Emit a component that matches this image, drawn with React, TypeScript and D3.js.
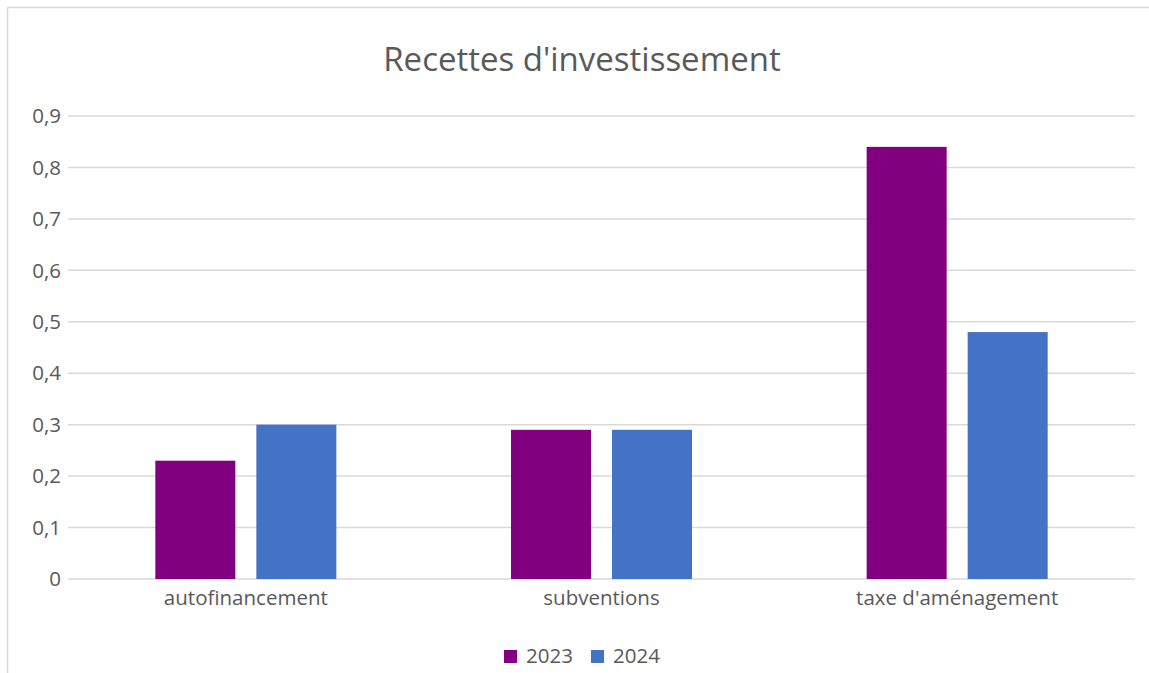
import { useEffect, useRef } from 'react';
import * as d3 from 'd3';

const categories = ['autofinancement', 'subventions', "taxe d'aménagement"];
const seriesNames = ['2023', '2024'];
const values2023 = [0.23, 0.29, 0.84];
const values2024 = [0.3, 0.29, 0.48];
const yTicks = [0, 0.1, 0.2, 0.3, 0.4, 0.5, 0.6, 0.7, 0.8, 0.9];

const colors: Record<string, string> = {
  '2023': '#800080',
  '2024': '#4472C4',
};

const W = 1149;
const H = 673;
const font = '"Open Sans", "Noto Sans", sans-serif';
const labelSize = 20.5;

export default function App() {
  const svgRef = useRef<SVGSVGElement>(null);

  useEffect(() => {
    if (!svgRef.current) return;
    document.body.style.margin = '0';
    const svg = d3.select(svgRef.current);
    svg.selectAll('*').remove();
    svg.attr('width', W).attr('height', H);

    svg.append('rect').attr('width', W).attr('height', H).attr('fill', '#fff');

    // chart border (only left and top visible in the crop)
    svg.append('path')
      .attr('d', `M7.5,${H} V7.5 H${W}`)
      .attr('fill', 'none')
      .attr('stroke', '#D9D9D9')
      .attr('stroke-width', 1.5);

    const plot = { left: 68, right: 1135, top: 116, bottom: 579 };

    const y = d3.scaleLinear().domain([0, 0.9]).range([plot.bottom, plot.top]);
    const x = d3
      .scaleBand<string>()
      .domain(categories)
      .range([plot.left, plot.right])
      .paddingInner(0.491)
      .paddingOuter(0.2455);
    const xs = d3
      .scaleBand<string>()
      .domain(seriesNames)
      .range([0, x.bandwidth()])
      .paddingInner(0.208);

    // Title
    svg.append('text')
      .attr('x', 582)
      .attr('y', 71)
      .attr('text-anchor', 'middle')
      .attr('font-family', font)
      .attr('font-size', 33)
      .attr('fill', '#595959')
      .text("Recettes d'investissement");

    // Gridlines + y labels
    yTicks.forEach((t) => {
      svg.append('line')
        .attr('x1', plot.left)
        .attr('x2', plot.right)
        .attr('y1', y(t))
        .attr('y2', y(t))
        .attr('stroke', '#D9D9D9')
        .attr('stroke-width', 1.5);
      svg.append('text')
        .attr('x', 61)
        .attr('y', y(t))
        .attr('dy', '0.35em')
        .attr('text-anchor', 'end')
        .attr('font-family', font)
        .attr('font-size', labelSize)
        .attr('fill', '#595959')
        .text(d3.format('.1~f')(t).replace('.', ','));
    });

    // Bars
    const data = [values2023, values2024];
    categories.forEach((c, i) => {
      seriesNames.forEach((s, j) => {
        const v = data[j][i];
        svg.append('rect')
          .attr('x', (x(c) ?? 0) + (xs(s) ?? 0))
          .attr('y', y(v))
          .attr('width', xs.bandwidth())
          .attr('height', y(0) - y(v))
          .attr('fill', colors[s]);
      });
      svg.append('text')
        .attr('x', (x(c) ?? 0) + x.bandwidth() / 2)
        .attr('y', 605)
        .attr('text-anchor', 'middle')
        .attr('font-family', font)
        .attr('font-size', labelSize)
        .attr('fill', '#595959')
        .text(c);
    });

    // Legend
    const legendX = [504, 591];
    seriesNames.forEach((s, j) => {
      svg.append('rect')
        .attr('x', legendX[j])
        .attr('y', 650)
        .attr('width', 13)
        .attr('height', 13)
        .attr('fill', colors[s]);
      svg.append('text')
        .attr('x', legendX[j] + 22)
        .attr('y', 663)
        .attr('font-family', font)
        .attr('font-size', labelSize)
        .attr('fill', '#595959')
        .text(s);
    });
  }, []);

  return (
    <div style={{ position: 'absolute', left: 0, top: 0 }}>
      <svg ref={svgRef} />
    </div>
  );
}
